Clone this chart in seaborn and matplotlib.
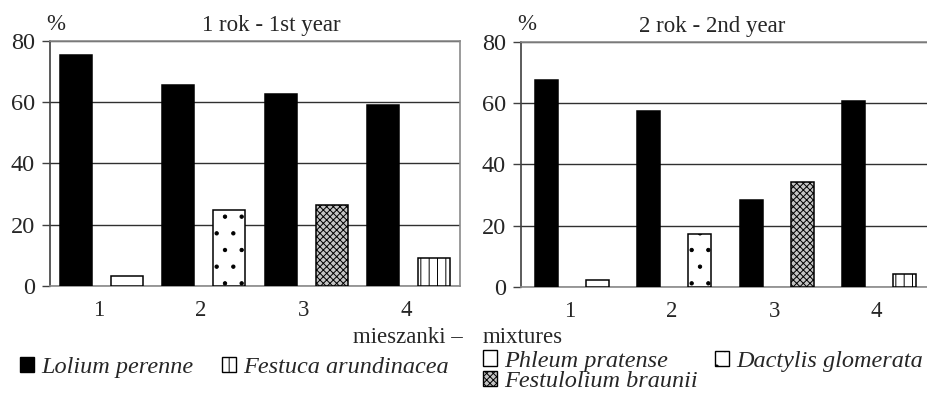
import matplotlib
matplotlib.use("Agg")
import matplotlib.pyplot as plt
from matplotlib.patches import Patch
import seaborn as sns
import pandas as pd

# --- data -------------------------------------------------------------
mixtures = ["1", "2", "3", "4"]
species = ["Lolium perenne", "Festuca arundinacea", "Phleum pratense",
           "Dactylis glomerata", "Festulolium braunii"]
# companion grass sown with Lolium perenne in each mixture
companions = ["Phleum pratense", "Dactylis glomerata",
              "Festulolium braunii", "Festuca arundinacea"]

lolium_y1 = [75.5, 65.7, 62.8, 59.2]
companion_y1 = [3.2, 24.8, 26.6, 9.2]
lolium_y2 = [67.6, 57.5, 28.2, 60.5]
companion_y2 = [2.4, 17.3, 34.1, 4.1]

titles = ["1 rok - 1st year", "2 rok - 2nd year"]
y_ticks = [0, 20, 40, 60, 80]

# --- styles -----------------------------------------------------------
styles = {
    "Lolium perenne":      dict(facecolor="black", hatch=None),
    "Festuca arundinacea": dict(facecolor="white", hatch="||"),
    "Phleum pratense":     dict(facecolor="white", hatch=None),
    "Dactylis glomerata":  dict(facecolor="white", hatch="."),
    "Festulolium braunii": dict(facecolor="#c4c4c4", hatch="xxxxx"),
}

sns.set_theme(style="white")
SERIF = ["Liberation Serif", "DejaVu Serif"]
plt.rcParams["font.family"] = SERIF
plt.rcParams["hatch.linewidth"] = 0.7

TICK_FS = 17.5
TEXT_FS = 16.5
LEG_FS = 17.5


def build_frame(lolium, companion):
    rows = []
    for i in range(len(mixtures)):
        rows.append({"slot": 2 * i, "value": lolium[i], "species": "Lolium perenne"})
        rows.append({"slot": 2 * i + 1, "value": companion[i], "species": companions[i]})
    return pd.DataFrame(rows)


frames = [build_frame(lolium_y1, companion_y1), build_frame(lolium_y2, companion_y2)]
bar_widths = [0.62, 0.45]

fig = plt.figure(figsize=(9.28, 3.94), dpi=100)
W, H = 928, 394
ax_boxes = [
    [50 / W, (H - 286) / H, 410 / W, 245 / H],
    [521 / W, (H - 287) / H, 409 / W, 245.5 / H],
]
title_x = [0.539, 0.467]

palette = {s: styles[s]["facecolor"] for s in species}

for k in range(2):
    ax = fig.add_axes(ax_boxes[k])
    df = frames[k]
    present = [s for s in species if s in set(df["species"])]
    sns.barplot(data=df, x="slot", y="value", hue="species", hue_order=present,
                order=list(range(8)), palette=palette, dodge=False,
                width=bar_widths[k], errorbar=None, legend=False,
                edgecolor="black", linewidth=1.1, ax=ax, zorder=3)
    for name, cont in zip(present, ax.containers):
        for bar in cont:
            if styles[name]["hatch"]:
                bar.set_hatch(styles[name]["hatch"])
            bar.set_edgecolor("black")

    ax.set_xlim(-0.5, 7.5)
    ax.set_ylim(0, 80)
    ax.set_yticks(y_ticks)
    ax.set_yticklabels([str(v) for v in y_ticks], fontsize=TICK_FS)
    ax.set_xticks([2 * i + 0.45 for i in range(len(mixtures))])
    ax.set_xticklabels(mixtures, fontsize=TEXT_FS)
    ax.tick_params(axis="x", length=0, pad=10)
    ax.tick_params(axis="y", length=6, width=1, color="#404040", pad=5,
                   left=True, direction="out")
    ax.set_xlabel("")
    ax.set_ylabel("")

    ax.yaxis.grid(True, color="#303030", linewidth=1.0, zorder=0)
    ax.xaxis.grid(False)
    ax.set_axisbelow(True)

    for side in ["top", "right", "bottom"]:
        ax.spines[side].set_color("#8a8a8a")
        ax.spines[side].set_linewidth(1.2)
        ax.spines[side].set_visible(True)
    ax.spines["left"].set_color("#404040")
    ax.spines["left"].set_linewidth(1.2)
    ax.spines["left"].set_visible(True)

    ax.text(title_x[k], 1.04, titles[k], transform=ax.transAxes,
            ha="center", va="baseline", fontsize=TEXT_FS)
    ax.text(-0.008, 1.045, "%", transform=ax.transAxes,
            ha="left", va="baseline", fontsize=TEXT_FS)

# axis caption between the panels
fig.text(463 / W, (H - 343) / H, "mieszanki \u2013", ha="right", va="baseline", fontsize=TEXT_FS)
fig.text(483 / W, (H - 343) / H, "mixtures", ha="left", va="baseline", fontsize=TEXT_FS)

# legend entries placed in a 4-column layout
legend_spots = {
    "Lolium perenne":      (20, 367.5),
    "Festuca arundinacea": (222, 367.5),
    "Phleum pratense":     (483, 361),
    "Dactylis glomerata":  (715, 361.5),
    "Festulolium braunii": (483, 381.5),
}
for name, (px, py) in legend_spots.items():
    st = styles[name]
    handle = Patch(facecolor=st["facecolor"], edgecolor="black",
                   hatch=st["hatch"], linewidth=1.0)
    fig.legend([handle], [name], loc="center left",
               bbox_to_anchor=(px / W, (H - py) / H), frameon=False,
               handlelength=0.58, handleheight=0.58, handletextpad=0.3,
               borderpad=0, borderaxespad=0,
               prop=dict(family=SERIF, style="italic", size=LEG_FS))

fig.savefig("out.png", dpi=100)
